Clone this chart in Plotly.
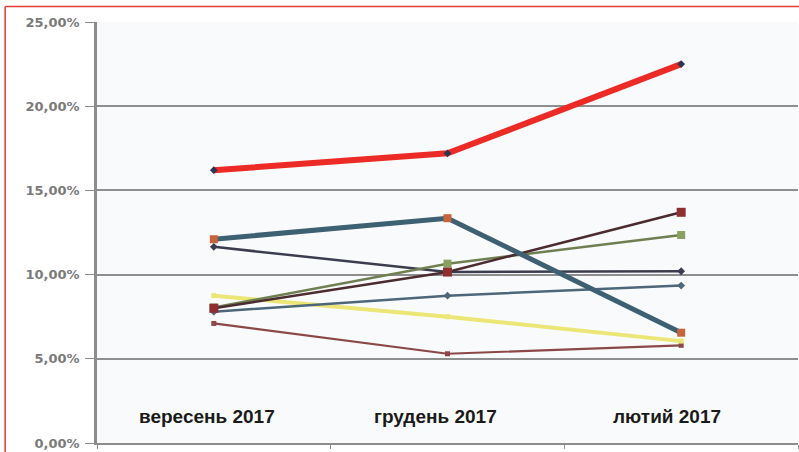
import plotly.graph_objects as go

categories = ["вересень 2017", "грудень 2017", "лютий 2017"]
y_tick_vals = [0, 5, 10, 15, 20, 25]
y_tick_text = ["0,00%", "5,00%", "10,00%", "15,00%", "20,00%", "25,00%"]

s_red = [16.2, 17.2, 22.5]
s_teal = [12.1, 13.35, 6.55]
s_brown = [8.0, 10.15, 13.7]
s_green = [8.05, 10.65, 12.35]
s_navy = [11.65, 10.15, 10.2]
s_steel = [7.8, 8.75, 9.35]
s_yellow = [8.75, 7.5, 6.05]
s_maroon = [7.1, 5.3, 5.8]

series = [
    (s_maroon, "#8a4848", 2.2, "#8a4848", "square", 5),
    (s_yellow, "#ece676", 4, "#ece676", "square", 5),
    (s_steel, "#4d6679", 2.5, "#4d6679", "diamond", 6),
    (s_navy, "#3b3d4f", 2.5, "#3b3d4f", "diamond", 6),
    (s_green, "#6f7f52", 2.5, "#8aa060", "square", 8),
    (s_brown, "#4b2c30", 2.5, "#8f2e2e", "square", 9),
    (s_teal, "#3e6073", 5, "#c7643c", "square", 8),
    (s_red, "#ec2b27", 6, "#2e3350", "diamond", 6),
]

fig = go.Figure()
for vals, col, w, mcol, msym, msz in series:
    fig.add_trace(go.Scatter(
        x=categories, y=vals, mode="lines+markers",
        line=dict(color=col, width=w),
        marker=dict(color=mcol, symbol=msym, size=msz),
        showlegend=False,
    ))

xshifts = [-7, -12, -14]
for c, xs in zip(categories, xshifts):
    fig.add_annotation(
        x=c, xref="x", y=0, yref="paper", yanchor="bottom", yshift=14, xshift=xs,
        text=c, showarrow=False,
        font=dict(family="Liberation Sans, Arial", size=19,
                  color="#1a1a1a", weight="bold"),
    )

# red frame: top and left edges (the others lie beyond the picture)
fig.add_shape(type="line", xref="paper", yref="paper",
              x0=-0.131, x1=1.02, y0=1.037, y1=1.037,
              line=dict(color="#e23a35", width=1.5))
fig.add_shape(type="line", xref="paper", yref="paper",
              x0=-0.131, x1=-0.131, y0=1.037, y1=-0.04,
              line=dict(color="#e23a35", width=1.5))

fig.update_layout(
    width=799, height=452,
    margin=dict(l=97, r=1, t=22, b=7),
    paper_bgcolor="#ffffff",
    plot_bgcolor="#f9fafb",
    xaxis=dict(
        type="category", range=[-0.5, 2.5], showticklabels=False,
        showgrid=False, showline=True, linecolor="#8c8c8c", linewidth=2,
        ticks="outside", ticklen=4, tickcolor="#8c8c8c", tickson="boundaries",
    ),
    yaxis=dict(
        range=[0, 25], tickvals=y_tick_vals, ticktext=y_tick_text,
        showgrid=True, gridcolor="#8e8e8e", gridwidth=1.6,
        showline=True, linecolor="#8c8c8c", linewidth=2.5,
        ticks="outside", ticklen=9, tickcolor="#8c8c8c",
        ticklabelstandoff=3, ticklabeloverflow="allow",
        zeroline=False,
        tickfont=dict(family="DejaVu Sans, Arial", size=13, color="#7a7a7a", weight="bold"),
    ),
)

fig.write_html("out.html", config={"displayModeBar": False},
               post_script="document.body.style.margin='0';document.body.style.padding='0';")
